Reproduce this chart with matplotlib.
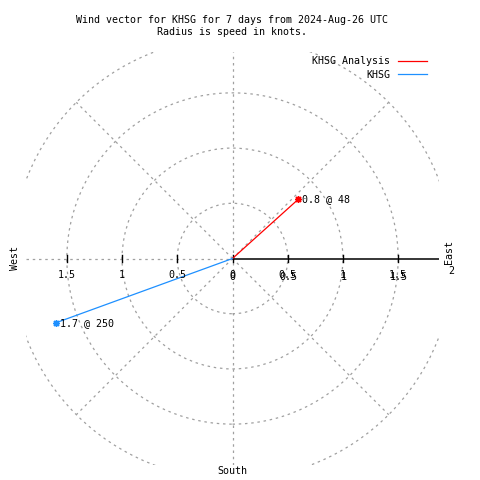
import numpy as np
import matplotlib
matplotlib.use('Agg')
import matplotlib.pyplot as plt
from matplotlib.patches import Circle

plt.rcParams['font.family'] = ['DejaVu Sans Mono']

# data
names = ['KHSG Analysis', 'KHSG']
speeds = [0.8, 1.7]        # knots
directions = [48, 250]     # degrees (compass)
colors = ['#ff0000', '#1e90ff']
rings = [0.5, 1.0, 1.5, 2.0]
tick_vals = [0.5, 1.0, 1.5]

title = 'Wind vector for KHSG for 7 days from 2024-Aug-26 UTC\nRadius is speed in knots.'

fs = 7.2
grid = dict(color='#a0a0a0', lw=0.9, ls=(0, (2, 3)))
lim = 1.87

fig = plt.figure(figsize=(4.8, 4.8), dpi=100)
ax = fig.add_axes([26/480, 15/480, 413/480, 413/480])
ax.set_xlim(-lim, lim)
ax.set_ylim(-lim, lim)
ax.axis('off')

# grid: rings, spokes
for r in rings:
    ax.add_patch(Circle((0, 0), r, fill=False, **grid))
ax.plot([0, 0], [-lim, lim], **grid)
ax.plot([-lim, 0], [0, 0], **grid)
for a in [45, 135, 225, 315]:
    t = np.radians(a)
    ax.plot([0, 2*np.cos(t)], [0, 2*np.sin(t)], **grid)

# east axis
ax.plot([0, lim], [0, 0], color='black', lw=1.1)
for v in [-1.5, -1, -0.5, 0, 0.5, 1, 1.5]:
    ax.plot([v, v], [-0.035, 0.035], color='black', lw=1.0)

# tick labels (right side drawn twice, slightly shifted, like the original)
ty = -0.15
for v in tick_vals:
    ax.text(-v, ty, f'{v:g}', ha='center', va='center', fontsize=fs)
    ax.text(v, ty, f'{v:g}', ha='center', va='center', fontsize=fs)
    ax.text(v + 0.008, ty - 0.014, f'{v:g}', ha='center', va='center', fontsize=fs)
ax.text(0, ty, '0', ha='center', va='center', fontsize=fs)
ax.text(0, ty - 0.014, '0', ha='center', va='center', fontsize=fs)
ax.text(1.985, -0.11, '2', ha='center', va='center', fontsize=fs, clip_on=False)

ax.text(-1.97, 0, 'West', rotation=90, ha='center', va='center', fontsize=fs, clip_on=False)
ax.text(1.96, 0.06, 'East', rotation=90, ha='center', va='center', fontsize=fs, clip_on=False)
ax.text(0, -1.92, 'South', ha='center', va='center', fontsize=fs, clip_on=False)

# vectors
for n, s, d, c in zip(names, speeds, directions, colors):
    t = np.radians(d)
    x, y = s*np.sin(t), s*np.cos(t)
    ax.plot([0, x], [0, y], color=c, lw=0.9, label=n)
    ax.plot(x, y, marker=(8, 2, 0), ms=5, mew=1, color=c)
    ax.annotate(f'{s:g} @ {d}', (x, y), xytext=(2.5, 0), textcoords='offset points',
                ha='left', va='center', fontsize=fs)

ax.legend(loc='upper right', bbox_to_anchor=(427/480, 1 - 56/480),
          bbox_transform=fig.transFigure, frameon=False, markerfirst=False,
          fontsize=fs, handlelength=2.9, handletextpad=0.8, labelspacing=0.35,
          borderpad=0, borderaxespad=0)

fig.text(232/480, 1 - 26/480, title, ha='center', va='center', fontsize=fs, linespacing=1.35)

plt.savefig('out.png', dpi=100)
